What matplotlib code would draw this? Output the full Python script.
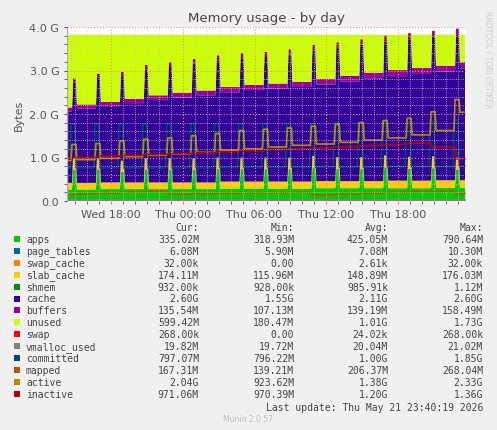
import numpy as np
import matplotlib.pyplot as plt

# time grid: 5 minute samples, hours since Wed 14:20
STEP = 5 / 60.0
N = 400
SPIKE_HOURS = [0.5 + 2 * i for i in range(17)]

# per-segment base levels in GB (segment 0 is before the first spike)
apps_base = [0.26, 0.26, 0.27, 0.27, 0.27, 0.27, 0.27, 0.28, 0.28, 0.28, 0.28, 0.29, 0.29, 0.29, 0.29, 0.29, 0.30, 0.30]
apps_peak = [0.45, 0.45, 0.40, 0.45, 0.45, 0.45, 0.45, 0.45, 0.45, 0.45, 0.48, 0.45, 0.45, 0.48, 0.45, 0.45, 0.42]
slab_base = [0.15, 0.15, 0.15, 0.15, 0.15, 0.15, 0.15, 0.16, 0.16, 0.16, 0.16, 0.16, 0.16, 0.16, 0.17, 0.17, 0.17, 0.17]
cache_top = [2.05, 2.12, 2.18, 2.25, 2.32, 2.38, 2.43, 2.50, 2.55, 2.58, 2.62, 2.68, 2.75, 2.82, 2.87, 2.92, 2.97, 3.05]
cache_peak = [0.05, 0.10, 0.12, 0.15, 0.15, 0.18, 0.18, 0.18, 0.18, 0.20, 0.20, 0.22, 0.22, 0.22, 0.25, 0.25, 0.25]
buffers_base = [0.10, 0.10, 0.10, 0.10, 0.11, 0.11, 0.11, 0.12, 0.12, 0.12, 0.12, 0.13, 0.13, 0.13, 0.14, 0.14, 0.14, 0.14]
total_ram = 3.82
committed_base = [0.76, 0.76, 0.76, 0.76, 0.76, 0.76, 0.76, 0.77, 0.77, 0.77, 0.78, 0.78, 0.78, 0.78, 0.79, 0.79, 0.79, 0.80]
committed_peak = [1.77, 1.77, 1.77, 1.77, 1.77, 1.77, 1.77, 1.77, 1.78, 1.78, 1.78, 1.80, 1.80, 1.82, 1.82, 1.83, 1.85]
active_base = [0.93, 0.95, 0.98, 1.02, 1.05, 1.08, 1.12, 1.17, 1.20, 1.24, 1.28, 1.31, 1.35, 1.40, 1.45, 1.52, 1.62, 2.04]
active_peak = [1.30, 1.32, 1.38, 1.42, 1.45, 1.50, 1.55, 1.62, 1.65, 1.68, 1.72, 1.76, 1.80, 1.85, 1.90, 2.05, 2.33]
inactive_base = [0.97, 1.00, 1.03, 1.05, 1.07, 1.09, 1.11, 1.13, 1.16, 1.18, 1.20, 1.22, 1.24, 1.27, 1.30, 1.33, 1.24, 0.97]
mapped_base = [0.14, 0.16, 0.18, 0.20, 0.22, 0.16, 0.17, 0.18, 0.19, 0.19, 0.20, 0.14, 0.16, 0.18, 0.20, 0.22, 0.22, 0.17]
vmalloc_base = 0.02

legend_rows = [
    ("apps", "#00CC00", "335.02M", "318.93M", "425.05M", "790.64M"),
    ("page_tables", "#0066B3", "6.08M", "5.90M", "7.08M", "10.30M"),
    ("swap_cache", "#FF8000", "32.00k", "0.00", "2.61k", "32.00k"),
    ("slab_cache", "#FFCC00", "174.11M", "115.96M", "148.89M", "176.03M"),
    ("shmem", "#008F00", "932.00k", "928.00k", "985.91k", "1.12M"),
    ("cache", "#330099", "2.60G", "1.55G", "2.11G", "2.60G"),
    ("buffers", "#990099", "135.54M", "107.13M", "139.19M", "158.49M"),
    ("unused", "#CCFF00", "599.42M", "180.47M", "1.01G", "1.73G"),
    ("swap", "#FF0000", "268.00k", "0.00", "24.02k", "268.00k"),
    ("vmalloc_used", "#808080", "19.82M", "19.72M", "20.04M", "21.02M"),
    ("committed", "#00487D", "797.07M", "796.22M", "1.00G", "1.85G"),
    ("mapped", "#B35A00", "167.31M", "139.21M", "206.37M", "268.04M"),
    ("active", "#B38F00", "2.04G", "923.62M", "1.38G", "2.33G"),
    ("inactive", "#B30000", "971.06M", "970.39M", "1.20G", "1.36G"),
]
colors = {r[0]: r[1] for r in legend_rows}

t = np.arange(N) * STEP
seg = np.searchsorted(SPIKE_HOURS, t, side="right")


def segmented(base):
    return np.array(base)[seg]


def pulse(peaks, start, length):
    out = np.zeros(N)
    for h, p in zip(SPIKE_HOURS, peaks):
        i = int(round(h / STEP)) + start
        out[max(i, 0):i + length] = p
    return out


apps = segmented(apps_base) + pulse(apps_peak, 0, 4)
page_tables = np.full(N, 0.006)
swap_cache = np.full(N, 0.0)
slab = segmented(slab_base) + pulse([0.1] * 17, 0, 4)
shmem = np.full(N, 0.001)
lower = segmented(apps_base) + segmented(slab_base) + 0.007
cache = segmented(cache_top) - lower + pulse(cache_peak, 0, 4)
buffers = segmented(buffers_base)
stack_sum = apps + page_tables + swap_cache + slab + shmem + cache + buffers
unused = np.clip(total_ram - stack_sum, 0, None)

committed = np.maximum(segmented(committed_base), pulse(committed_peak, -2, 5))
active = np.maximum(segmented(active_base), pulse(active_peak, -1, 5))
inactive = segmented(inactive_base)
mapped = segmented(mapped_base)
vmalloc = np.full(N, vmalloc_base)
swap = np.zeros(N)

fig = plt.figure(figsize=(4.97, 4.31), dpi=100, facecolor="#F0F0F0")
ax = fig.add_axes([67 / 497, 1 - 202 / 431, 399 / 497, 174 / 431])
ax.set_facecolor("white")

ax.stackplot(t, apps, page_tables, swap_cache, slab, shmem, cache, buffers, unused,
             colors=[colors[k] for k in ["apps", "page_tables", "swap_cache", "slab_cache",
                                          "shmem", "cache", "buffers", "unused"]],
             linewidth=0)
for name, y in [("swap", swap), ("vmalloc_used", vmalloc), ("committed", committed),
                ("mapped", mapped), ("active", active), ("inactive", inactive)]:
    ax.plot(t, y, color=colors[name], linewidth=1.2)

ax.set_xlim(0, N * STEP)
ax.set_ylim(0, 4.0)
ax.set_yticks([0, 1, 2, 3, 4])
ax.set_yticklabels(["0.0", "1.0 G", "2.0 G", "3.0 G", "4.0 G"])
ax.set_yticks(np.arange(0, 4.01, 0.2), minor=True)
major_x = [3 + 40 / 60 + 6 * i for i in range(5)]
ax.set_xticks(major_x)
ax.set_xticklabels(["Wed 18:00", "Thu 00:00", "Thu 06:00", "Thu 12:00", "Thu 18:00"])
ax.set_xticks(np.arange(40 / 60, N * STEP, 1.0), minor=True)
ax.tick_params(labelsize=8, colors="#555555", length=2, which="both")
ax.tick_params(axis="x", which="major", colors="#E08080", labelcolor="#555555")
ax.grid(True, which="major", color="#E09090", linestyle=":", linewidth=0.8)
ax.grid(True, which="minor", color="#C8C8C8", linestyle=":", linewidth=0.6)
ax.set_axisbelow(False)
for s in ax.spines.values():
    s.set_visible(False)
ax.axhline(0, color="#AAAACC", linewidth=1)
ax.axvline(0, color="#AAAACC", linewidth=1)
ax.set_ylabel("Bytes", fontsize=8, color="#555555")
ax.set_title("Memory usage - by day", fontsize=9.5, color="#444444", pad=4)

fig.text(488 / 497, 1 - 60 / 431, "RRDTOOL / TOBI OETIKER", rotation=270, fontsize=5.5,
         color="#CCCCCC", ha="center", va="center")

mono = dict(family="DejaVu Sans Mono", fontsize=7, color="#444444", va="center")


def fy(py):
    return 1 - py / 431


cols_x = [199, 294, 388, 483]
for x, h in zip(cols_x, ["Cur:", "Min:", "Avg:", "Max:"]):
    fig.text(x / 497, fy(228), h, ha="right", **mono)
for i, (name, col, cur, mn, avg, mx) in enumerate(legend_rows):
    y = 240 + 11.9 * i
    fig.patches.append(plt.Rectangle((14 / 497, fy(y + 3)), 6 / 431 * 431 / 497, 6 / 431,
                                     transform=fig.transFigure, facecolor=col,
                                     edgecolor="none"))
    fig.text(26 / 497, fy(y), name, ha="left", **mono)
    for x, v in zip(cols_x, [cur, mn, avg, mx]):
        fig.text(x / 497, fy(y), v, ha="right", **mono)
fig.text(483 / 497, fy(408), "Last update: Thu May 21 23:40:19 2026", ha="right", **mono)
fig.text(248 / 497, fy(420), "Munin 2.0.57", ha="center", va="center",
         fontsize=5.5, color="#BBBBBB")

fig.savefig("out.png", dpi=100, facecolor=fig.get_facecolor())
